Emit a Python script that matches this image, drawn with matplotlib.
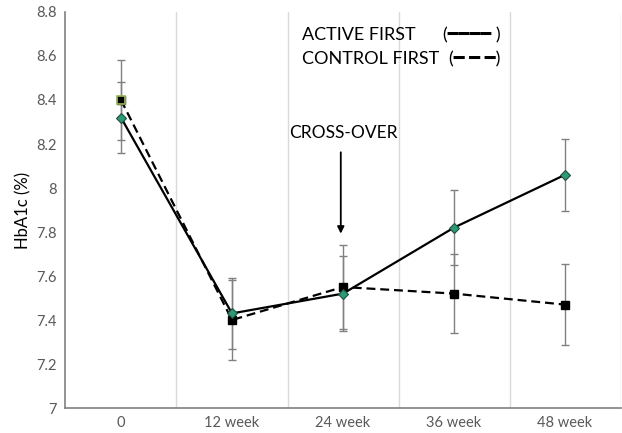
import numpy as np
import matplotlib.pyplot as plt

plt.rcParams['font.family'] = ['Lato', 'DejaVu Sans']

weeks = ['0', '12 week', '24 week', '36 week', '48 week']
active = [8.32, 7.43, 7.52, 7.82, 8.06]
active_err = [0.16, 0.16, 0.17, 0.17, 0.165]
control = [8.40, 7.40, 7.55, 7.52, 7.47]
control_err = [0.18, 0.18, 0.19, 0.18, 0.185]

x = np.arange(len(weeks))

fig = plt.figure(figsize=(6.22, 4.33), dpi=100)
ax = fig.add_axes([0.1053, 0.0577, 0.8923, 0.9146])

ecol = '#808080'
ax.errorbar(x, control, yerr=control_err, fmt='none', ecolor=ecol, elinewidth=1, capsize=3, capthick=1, zorder=2)
ax.errorbar(x, active, yerr=active_err, fmt='none', ecolor=ecol, elinewidth=1, capsize=3, capthick=1, zorder=2)

ax.plot(x, control, color='black', lw=1.6, linestyle=(0, (4, 2.2)), marker='s', markersize=6,
        markerfacecolor='black', markeredgecolor='black', zorder=3)
ax.plot(x[:1], control[:1], linestyle='none', marker='s', markersize=6,
        markerfacecolor='black', markeredgecolor='#9bbb59', markeredgewidth=1.2, zorder=4)
ax.plot(x, active, color='black', lw=1.6, marker='D', markersize=5,
        markerfacecolor='#2e9a74', markeredgecolor='#1f4f3f', markeredgewidth=0.8, zorder=5)

ax.set_xlim(-0.5, 4.5)
ax.set_ylim(7, 8.8)
ax.set_yticks(np.arange(7, 8.81, 0.2))
ax.set_yticklabels(['7', '7.2', '7.4', '7.6', '7.8', '8', '8.2', '8.4', '8.6', '8.8'])
ax.set_xticks(x)
ax.set_xticklabels(weeks)
ax.tick_params(axis='both', length=0, labelsize=10.5, colors='#595959', pad=6)

for b in np.arange(0.5, 4.6, 1.0):
    ax.axvline(b, color='#d9d9d9', lw=1, zorder=1)

for s in ['top', 'right']:
    ax.spines[s].set_visible(False)
ax.spines['left'].set_color('#808080')
ax.spines['bottom'].set_color('#808080')
ax.spines['left'].set_linewidth(1.2)
ax.spines['bottom'].set_linewidth(1.2)

ax.set_ylabel('HbA1c (%)', fontsize=12, color='black', labelpad=4)

ax.text(2, 8.25, 'CROSS-OVER', ha='center', va='center', fontsize=12.5)
ax.annotate('', xy=(1.98, 7.78), xytext=(1.98, 8.175),
            arrowprops=dict(arrowstyle='-|>', color='black', lw=1.3, mutation_scale=10))

# legend written as text, as in the original
ax.text(1.63, 8.695, 'ACTIVE FIRST', ha='left', va='center', fontsize=13)
ax.text(1.63, 8.585, 'CONTROL FIRST', ha='left', va='center', fontsize=13)
ax.text(3.42, 8.695, '(\u2501\u2501\u2501\u2501 )', ha='right', va='center', fontsize=13)
ax.text(3.42, 8.585, '(\u2501 \u2501 \u2501)', ha='right', va='center', fontsize=13)

plt.savefig('out.png', dpi=100)
